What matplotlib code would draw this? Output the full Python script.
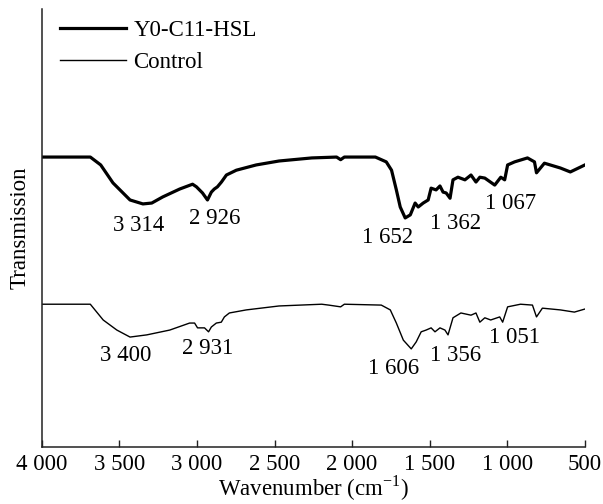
import matplotlib
matplotlib.use("Agg")
import matplotlib.pyplot as plt

plt.rcParams["font.family"] = ["Liberation Serif", "DejaVu Serif"]
plt.rcParams["mathtext.fontset"] = "custom"
plt.rcParams["mathtext.rm"] = "Liberation Serif"

# Y0-C11-HSL spectrum (wavenumber, transmission a.u.)
wn_sample = [4000, 3687, 3620, 3541, 3431, 3348, 3291, 3220, 3111, 3028, 3003,
             2964, 2932, 2907, 2888, 2868, 2842, 2810, 2746, 2618, 2471, 2260,
             2100, 2074, 2050, 1850, 1780, 1746, 1715, 1690, 1658, 1625, 1594,
             1574, 1542, 1510, 1491, 1459, 1434, 1414, 1394, 1369, 1350, 1318,
             1273, 1234, 1202, 1177, 1145, 1081, 1042, 1017, 998, 953, 870,
             825, 812, 761, 658, 594, 500]
tr_sample = [66.2, 66.2, 64.4, 60.3, 56.4, 55.5, 55.7, 57.1, 58.9, 60.0, 59.4,
             58.0, 56.4, 58.2, 58.9, 59.4, 60.5, 62.1, 63.2, 64.4, 65.3, 66.0,
             66.2, 65.6, 66.2, 66.2, 65.1, 63.2, 58.7, 54.8, 52.3, 53.0, 55.7,
             54.8, 55.7, 56.4, 59.1, 58.7, 59.6, 58.2, 58.0, 56.8, 61.0, 61.6,
             61.0, 62.1, 60.5, 61.6, 61.4, 59.8, 61.6, 61.0, 64.4, 65.1, 66.0,
             65.1, 62.6, 64.8, 63.7, 62.8, 64.4]

# Control spectrum
wn_control = [4000, 3687, 3604, 3516, 3431, 3323, 3175, 3047, 3015, 2996, 2951,
              2925, 2907, 2875, 2843, 2823, 2791, 2682, 2471, 2196, 2151, 2074,
              2050, 1812, 1754, 1715, 1670, 1619, 1587, 1555, 1523, 1491, 1466,
              1434, 1402, 1382, 1350, 1299, 1234, 1202, 1177, 1145, 1107, 1049,
              1030, 998, 915, 838, 812, 774, 658, 568, 500]
tr_control = [32.6, 32.6, 29.0, 26.7, 25.1, 25.6, 26.7, 28.3, 28.3, 27.2, 27.2,
              26.3, 27.4, 28.3, 28.5, 29.7, 30.6, 31.3, 32.2, 32.6, 32.4, 32.0,
              32.6, 32.4, 31.3, 28.3, 24.4, 22.4, 24.0, 26.3, 26.7, 27.2, 26.3,
              27.2, 26.7, 25.6, 29.5, 30.6, 30.1, 30.6, 28.5, 29.5, 29.0, 29.7,
              28.5, 32.0, 32.6, 32.4, 29.7, 31.7, 31.3, 30.8, 31.5]

# peak labels and where they sit
peaks_sample = ["3 314", "2 926", "1 652", "1 362", "1 067"]
peaks_sample_pos = [(3376, 50.5), (2883, 52.1), (1769, 47.9), (1331, 51.1), (977, 55.7)]
peaks_control = ["3 400", "2 931", "1 606", "1 356", "1 051"]
peaks_control_pos = [(3457, 20.8), (2930, 22.4), (1730, 18.0), (1331, 21.0), (951, 25.1)]

xticks = [4000, 3500, 3000, 2500, 2000, 1500, 1000, 500]
xtick_labels = ["4 000", "3 500", "3 000", "2 500", "2 000", "1 500", "1 000", "500"]

fs = 16.5
fig = plt.figure(figsize=(6.03, 5.04), dpi=100)
ax = fig.add_axes([0.0692, 0.1131, 0.9008, 0.8690])

ax.plot(wn_sample, tr_sample, color="black", lw=2.3, label="Y0-C11-HSL")
ax.plot(wn_control, tr_control, color="black", lw=1.0, label="Control")

for txt, (x, y) in zip(peaks_sample, peaks_sample_pos):
    ax.text(x, y, txt, ha="center", va="center", fontsize=fs)
for txt, (x, y) in zip(peaks_control, peaks_control_pos):
    ax.text(x, y, txt, ha="center", va="center", fontsize=fs)

ax.set_xlim(4000, 500)
ax.set_ylim(0, 100)
ax.set_xticks(xticks)
ax.set_xticklabels(xtick_labels, fontsize=fs)
ax.set_yticks([])
ax.tick_params(axis="x", direction="in", length=5, width=1.0, pad=5, color="#222222")

for side in ["top", "right"]:
    ax.spines[side].set_visible(False)
for side in ["left", "bottom"]:
    ax.spines[side].set_linewidth(1.1)
    ax.spines[side].set_color("#222222")

ax.set_xlabel(r"Wavenumber (cm$^{\mathregular{-1}}$)", fontsize=fs, labelpad=-1)
ax.set_ylabel("Transmission", fontsize=fs, labelpad=8)

ax.legend(loc="upper left", bbox_to_anchor=(0.0337, 0.976), frameon=False,
          fontsize=fs, handlelength=2.9, handletextpad=0.3, borderaxespad=0,
          borderpad=0, labelspacing=0.5)

fig.savefig("out.png", dpi=100)
